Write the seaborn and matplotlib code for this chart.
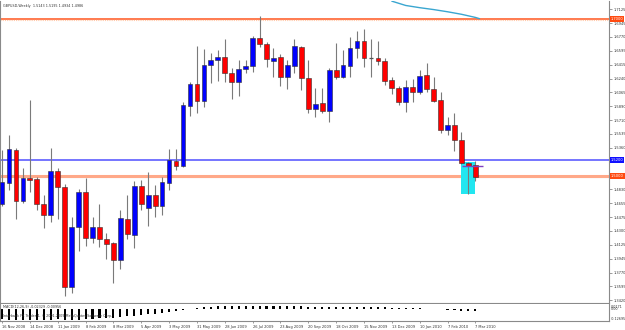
import matplotlib
matplotlib.use("Agg")
import matplotlib.pyplot as plt
import matplotlib.transforms as mtransforms
import numpy as np
import pandas as pd
import seaborn as sns

sns.set_theme(style="white")
plt.rcParams['font.family'] = ['DejaVu Sans']

# ---------------- data (weekly GBPUSD, 16 Nov 2008 .. 7 Mar 2010) ----------------
opens = [1.4642, 1.4910, 1.5330, 1.4680, 1.4973, 1.4961, 1.4642, 1.4502, 1.5062, 1.4859,
         1.3585, 1.4349, 1.4795, 1.4209, 1.4349, 1.4197, 1.4146, 1.3929, 1.4451, 1.4248,
         1.4871, 1.4591, 1.4757, 1.4617, 1.4910, 1.5190, 1.5126, 1.5890, 1.6170, 1.5954,
         1.6412, 1.6476, 1.6514, 1.6310, 1.6196, 1.6361, 1.6399, 1.6756, 1.6679, 1.6463,
         1.6514, 1.6259, 1.6399, 1.6641, 1.6246, 1.5852, 1.5928, 1.5826, 1.6348, 1.6259,
         1.6399, 1.6628, 1.6718, 1.6501, 1.6501, 1.6463, 1.6221, 1.6119, 1.5941, 1.6132,
         1.6068, 1.6285, 1.6106, 1.5966, 1.5584, 1.5648, 1.5457, 1.5164, 1.5143]
highs = [1.5330, 1.5521, 1.5355, 1.5101, 1.5966, 1.4986, 1.4757, 1.5355, 1.5101, 1.4897,
         1.4477, 1.4833, 1.4973, 1.4477, 1.4642, 1.4273, 1.4158, 1.4566, 1.4757, 1.4935,
         1.4948, 1.5050, 1.4884, 1.4986, 1.5342, 1.5342, 1.5941, 1.6196, 1.6654, 1.6616,
         1.6565, 1.6603, 1.6743, 1.6374, 1.6476, 1.6476, 1.6781, 1.7036, 1.6705, 1.6628,
         1.6552, 1.6476, 1.6743, 1.6654, 1.6476, 1.6119, 1.6119, 1.6374, 1.6692, 1.6603,
         1.6769, 1.6845, 1.6870, 1.6743, 1.6718, 1.6501, 1.6259, 1.6145, 1.6221, 1.6234,
         1.6348, 1.6437, 1.6259, 1.6068, 1.5750, 1.5801, 1.5559, 1.5177, 1.5195]
lows = [1.4617, 1.4821, 1.4451, 1.4655, 1.4795, 1.4566, 1.4337, 1.4413, 1.4451, 1.3471,
        1.3509, 1.4044, 1.4108, 1.4146, 1.4095, 1.3942, 1.3636, 1.3815, 1.4197, 1.4082,
        1.4566, 1.4362, 1.4477, 1.4502, 1.4821, 1.5075, 1.5113, 1.5763, 1.5801, 1.5877,
        1.6183, 1.6208, 1.6196, 1.5979, 1.6017, 1.6310, 1.6323, 1.6641, 1.6387, 1.6259,
        1.6145, 1.6106, 1.6310, 1.6094, 1.5801, 1.5750, 1.5801, 1.5686, 1.6234, 1.6246,
        1.6259, 1.6501, 1.6387, 1.6259, 1.6412, 1.6157, 1.6043, 1.5903, 1.5814, 1.5941,
        1.6043, 1.6068, 1.5941, 1.5546, 1.5521, 1.5317, 1.5152, 1.4770, 1.4934]
closes = [1.4922, 1.5342, 1.4680, 1.4973, 1.4948, 1.4642, 1.4502, 1.5062, 1.4859, 1.3585,
          1.4349, 1.4795, 1.4209, 1.4349, 1.4197, 1.4133, 1.3929, 1.4464, 1.4260, 1.4871,
          1.4642, 1.4757, 1.4617, 1.4922, 1.5202, 1.5126, 1.5903, 1.6170, 1.5954, 1.6412,
          1.6476, 1.6514, 1.6310, 1.6196, 1.6361, 1.6399, 1.6756, 1.6679, 1.6488, 1.6501,
          1.6259, 1.6412, 1.6654, 1.6246, 1.5852, 1.5915, 1.5826, 1.6348, 1.6259, 1.6412,
          1.6628, 1.6718, 1.6501, 1.6501, 1.6463, 1.6208, 1.6119, 1.5941, 1.6132, 1.6068,
          1.6272, 1.6106, 1.5954, 1.5584, 1.5648, 1.5457, 1.5164, 1.5126, 1.4986]

macd = [-0.115, -0.118, -0.122, -0.125, -0.127, -0.126, -0.124, -0.120, -0.117, -0.121,
        -0.122, -0.118, -0.115, -0.110, -0.106, -0.101, -0.098, -0.090, -0.083, -0.072,
        -0.064, -0.056, -0.049, -0.040, -0.030, -0.022, -0.010, 0.002, 0.011, 0.020,
        0.027, 0.032, 0.035, 0.036, 0.037, 0.038, 0.040, 0.041, 0.040, 0.039,
        0.037, 0.036, 0.036, 0.034, 0.030, 0.027, 0.024, 0.024, 0.024, 0.024,
        0.026, 0.028, 0.028, 0.027, 0.026, 0.023, 0.019, 0.014, 0.012, 0.010,
        0.009, 0.008, 0.005, -0.001, -0.005, -0.010, -0.018, -0.022, -0.023]

ma_idx = [56, 58, 60, 62, 64, 66, 68, 68.6]
ma_vals = [1.7225, 1.7170, 1.7142, 1.7118, 1.7090, 1.7058, 1.7018, 1.7002]

date_labels = ["16 Nov 2008", "14 Dec 2008", "11 Jan 2009", "8 Feb 2009", "8 Mar 2009",
               "5 Apr 2009", "3 May 2009", "31 May 2009", "28 Jun 2009", "26 Jul 2009",
               "23 Aug 2009", "20 Sep 2009", "18 Oct 2009", "15 Nov 2009", "13 Dec 2009",
               "10 Jan 2010", "7 Feb 2010", "7 Mar 2010"]
price_ticks = [1.7125, 1.6945, 1.6770, 1.6595, 1.6415, 1.6240, 1.6065, 1.5890, 1.5710,
               1.5535, 1.5360, 1.4830, 1.4655, 1.4475, 1.4300, 1.4125, 1.3945, 1.3770,
               1.3595, 1.3420]
level_top = 1.7000
level_blue = 1.5200
level_low = 1.5000
box_left, box_right = 66.0, 68.0
box_top, box_bottom = 1.5177, 1.4770
purple_y = 1.5120

# ---------------- figure layout ----------------
W, H = 625, 330
fig = plt.figure(figsize=(W / 100, H / 100), dpi=100)
fig.patch.set_facecolor("white")

FS = 2.6
TXT = "#333333"


def rect(x0, y0, x1, y1):
    return [x0 / W, 1 - y1 / H, (x1 - x0) / W, (y1 - y0) / H]


ax = fig.add_axes(rect(0, 1, 609, 303))
axm = fig.add_axes(rect(0, 304, 609, 321), sharex=ax)

n = len(opens)
idx = np.arange(n)
df = pd.DataFrame({"i": idx, "o": opens, "h": highs, "l": lows, "c": closes, "macd": macd})

xmin, xmax = -0.29, 87.2
ax.set_xlim(xmin, xmax)
ax.set_ylim(1.3382, 1.7227)

grey = "#8a8a8a"
for a in (ax, axm):
    for sp in a.spines.values():
        sp.set_color(grey)
        sp.set_linewidth(0.8)
ax.spines["top"].set_visible(False)
axm.spines["top"].set_visible(False)

# horizontal levels
ax.axhline(level_top, color="#ff7040", lw=1.3, zorder=1)
ax.axhline(level_top - 0.0013, color="#ffc8a8", lw=0.8, ls=(0, (1, 1)), zorder=1)
ax.axhline(level_low - 0.0013, color="#c8c8c8", lw=1.5, zorder=1)
ax.axhline(level_low, color="#ffa888", lw=2.2, zorder=1)
ax.axhline(level_blue, color="#6a6aff", lw=1.3, zorder=1)

# cyan rectangle
ax.fill_between([box_left, box_right], box_bottom, box_top, color="#22e6f0", zorder=2, lw=0)

# moving average (top right)
sns.lineplot(x=ma_idx, y=ma_vals, ax=ax, color="#3aa6d0", lw=1.0, zorder=2)

# candles
for r in df.itertuples():
    ax.vlines(r.i, r.l, r.h, color="#7a7a7a", lw=0.8, zorder=3)
    if abs(r.c - r.o) < 1e-6:
        ax.hlines(r.o, r.i - 0.34, r.i + 0.34, color="#555555", lw=0.9, zorder=4)
        continue
    col = "#0000ff" if r.c > r.o else "#ff0000"
    ax.bar(r.i, abs(r.c - r.o), bottom=min(r.o, r.c), width=0.68, color=col,
           edgecolor="#303030", linewidth=0.4, zorder=4)

ax.hlines(purple_y, 66.1, 69.1, color="#8040c0", lw=1.0, zorder=5)

# y axis (right)
ax.yaxis.tick_right()
ax.set_yticks(price_ticks)
ax.set_yticklabels([f"{v:.4f}" for v in price_ticks])
ax.tick_params(axis="y", which="both", right=True, length=2, width=0.6, color=grey,
               labelsize=FS, pad=1.0, labelcolor=TXT)
ax.tick_params(axis="x", bottom=False, labelbottom=False)
ax.set_xlabel("")
ax.set_ylabel("")

trans = mtransforms.blended_transform_factory(ax.transAxes, ax.transData)
for val, bg in [(level_top, "#ff4a10"), (level_blue, "#1010ff"), (level_low, "#ff4a10")]:
    ax.text(1.003, val, f"{val:.4f}", transform=trans, fontsize=FS, color="white",
            va="center", ha="left", clip_on=False,
            bbox=dict(boxstyle="square,pad=0.25", fc=bg, ec="none"), zorder=10)

fig.text(3 / W, 1 - 5.5 / H, "GBPUSD,Weekly  1.5143 1.5195 1.4934 1.4986", fontsize=2.4,
         color=TXT, va="center", ha="left")

# MACD panel
sns.barplot(data=df, x="i", y="macd", native_scale=True, ax=axm, color="black",
            width=0.3, saturation=1, linewidth=0, errorbar=None)
axm.set_ylim(-0.135, 0.06)
axm.set_xlim(xmin, xmax)
axm.set_xlabel("")
axm.set_ylabel("")
axm.set_yticks([])
axm.tick_params(axis="y", left=False, right=False, labelleft=False)
tick_pos = list(range(0, n, 4))
axm.set_xticks(tick_pos)
axm.set_xticklabels(date_labels, fontsize=FS, color=TXT, ha="left")
axm.tick_params(axis="x", bottom=True, length=1.5, width=0.6, color=grey, pad=1.2)

fig.text(611 / W, 1 - 306.5 / H, "0.0171", fontsize=2.4, color=TXT, va="center")
fig.text(611 / W, 1 - 309.5 / H, "0.00", fontsize=2.4, color=TXT, va="center")
fig.text(611 / W, 1 - 319.5 / H, "-0.12695", fontsize=2.4, color=TXT, va="center")
fig.text(3 / W, 1 - 306.5 / H, "MACD(12,26,9) -0.02329 -0.00956", fontsize=2.4,
         color=TXT, va="center")
fig.text(3 / W, 1 - 316 / H, "Interbank FX Trader 4, \u00a9 2001-2009 MetaQuotes Software Corp.",
         fontsize=2.4, color=TXT, va="center")

fig.savefig("out.png", dpi=100, facecolor="white")
